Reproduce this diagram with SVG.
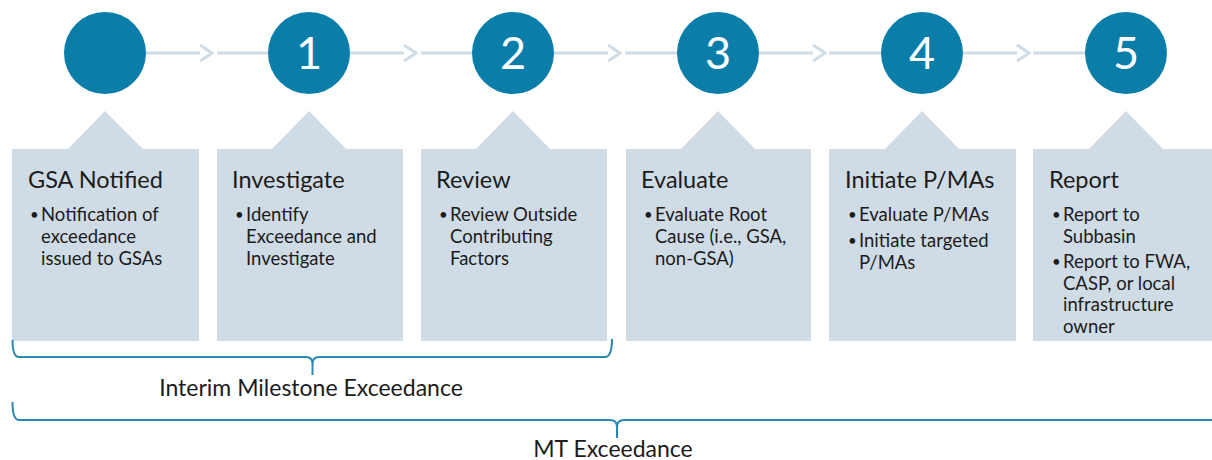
<svg xmlns="http://www.w3.org/2000/svg" width="1212" height="460" viewBox="0 0 1212 460">
<style>
.c{fill:#0a7ea9}
.n{font-family:Lato,"Liberation Sans",sans-serif;font-size:45px;fill:#fff;text-anchor:middle}
.card{fill:#cfdbe5}
.t{font-family:Lato,"Liberation Sans",sans-serif;font-size:23.5px;fill:#1c1c1c}
.b{font-family:Lato,"Liberation Sans",sans-serif;font-size:18.5px;fill:#1c1c1c}
.d{font-family:Lato,"Liberation Sans",sans-serif;font-size:15px;fill:#1c1c1c}
.conn{fill:none;stroke:#d0dce6;stroke-width:3}
.brace{fill:none;stroke:#2b88b2;stroke-width:2}
.lbl{font-family:Lato,"Liberation Sans",sans-serif;font-size:23px;fill:#1c1c1c;text-anchor:middle}
</style>
<rect width="1212" height="460" fill="#fff"/>
<g id="connectors">
<path class="conn" d="M146,53H200M200,45L212,53L200,61M217,53H268"/>
<path class="conn" d="M350,53H404M404,45L416,53L404,61M421,53H472"/>
<path class="conn" d="M554,53H608M608,45L620,53L608,61M625,53H677"/>
<path class="conn" d="M759,53H813M813,45L825,53L813,61M829,53H881"/>
<path class="conn" d="M963,53H1017M1017,45L1029,53L1017,61M1033,53H1085"/>
</g>
<g id="step0">
<circle class="c" cx="105" cy="53" r="41"/>
<path class="card" d="M12,149H68L105,111L143,149H199V341H12Z"/>
<text class="t" x="28" y="188">GSA Notified</text>
<text class="d" x="30" y="220">•</text>
<text class="b" x="41" y="221">Notification of</text>
<text class="b" x="41" y="243">exceedance</text>
<text class="b" x="41" y="265">issued to GSAs</text>
</g>
<g id="step1">
<circle class="c" cx="309" cy="53" r="41"/>
<text class="n" x="309" y="69">1</text>
<path class="card" d="M217,149H272L309,111L346,149H403V341H217Z"/>
<text class="t" x="232" y="188">Investigate</text>
<text class="d" x="235" y="220">•</text>
<text class="b" x="246" y="221">Identify</text>
<text class="b" x="246" y="243">Exceedance and</text>
<text class="b" x="246" y="265">Investigate</text>
</g>
<g id="step2">
<circle class="c" cx="513" cy="53" r="41"/>
<text class="n" x="513" y="69">2</text>
<path class="card" d="M421,149H476L513,111L550,149H607V341H421Z"/>
<text class="t" x="436" y="188">Review</text>
<text class="d" x="439" y="220">•</text>
<text class="b" x="450" y="221">Review Outside</text>
<text class="b" x="450" y="243">Contributing</text>
<text class="b" x="450" y="265">Factors</text>
</g>
<g id="step3">
<circle class="c" cx="718" cy="53" r="41"/>
<text class="n" x="718" y="69">3</text>
<path class="card" d="M626,149H681L718,111L755,149H811V341H626Z"/>
<text class="t" x="641" y="188">Evaluate</text>
<text class="d" x="644" y="220">•</text>
<text class="b" x="655" y="221">Evaluate Root</text>
<text class="b" x="655" y="243">Cause (i.e., GSA,</text>
<text class="b" x="655" y="265">non-GSA)</text>
</g>
<g id="step4">
<circle class="c" cx="922" cy="53" r="41"/>
<text class="n" x="922" y="69">4</text>
<path class="card" d="M829,149H885L922,111L959,149H1016V341H829Z"/>
<text class="t" x="845" y="188">Initiate P/MAs</text>
<text class="d" x="848" y="220">•</text>
<text class="b" x="859" y="221">Evaluate P/MAs</text>
<text class="d" x="848" y="246">•</text>
<text class="b" x="859" y="247">Initiate targeted</text>
<text class="b" x="859" y="269">P/MAs</text>
</g>
<g id="step5">
<circle class="c" cx="1126" cy="53" r="41"/>
<text class="n" x="1126" y="69">5</text>
<path class="card" d="M1033,149H1089L1126,111L1163,149H1220V341H1033Z"/>
<text class="t" x="1049" y="188">Report</text>
<text class="d" x="1052" y="220">•</text>
<text class="b" x="1063" y="221">Report to</text>
<text class="b" x="1063" y="242.5">Subbasin</text>
<text class="d" x="1052" y="267">•</text>
<text class="b" x="1063" y="268">Report to FWA,</text>
<text class="b" x="1063" y="289.5">CASP, or local</text>
<text class="b" x="1063" y="311">infrastructure</text>
<text class="b" x="1063" y="332.5">owner</text>
</g>
<g id="braces">
<path class="brace" d="M12.5,340Q12.5,357 19,357H306Q312.5,357 312.5,364V375M312.5,364Q312.5,357 319,357H605Q612,357 612,339"/>
<path class="brace" d="M12.5,402Q12.5,420 19,420H610Q617,420 617,427V438M617,427Q617,420 624,420H1212"/>
</g>
<g id="brace-labels">
<text class="lbl" x="311" y="396">Interim Milestone Exceedance</text>
<text class="lbl" x="613" y="457">MT Exceedance</text>
</g>
</svg>
